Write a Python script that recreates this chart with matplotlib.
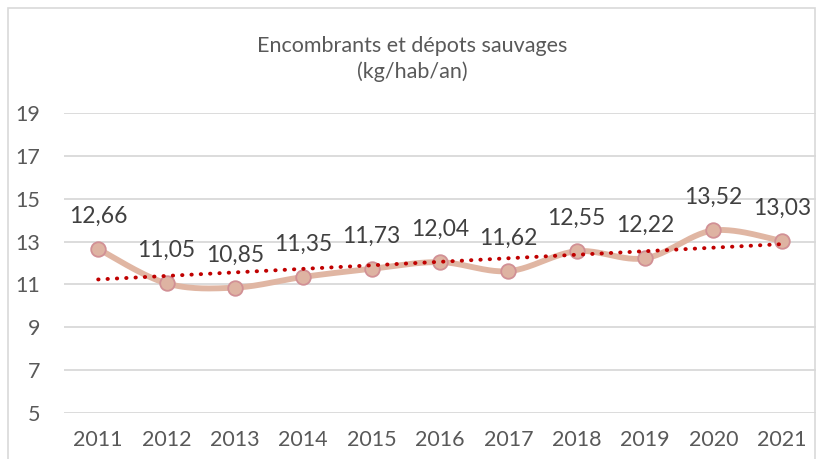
import matplotlib
matplotlib.use("Agg")
import matplotlib.pyplot as plt
from matplotlib.patches import Rectangle
import numpy as np

plt.rcParams['font.family'] = ['Lato', 'DejaVu Sans']

# data
years = ['2011', '2012', '2013', '2014', '2015', '2016', '2017', '2018', '2019', '2020', '2021']
values = [12.66, 11.05, 10.85, 11.35, 11.73, 12.04, 11.62, 12.55, 12.22, 13.52, 13.03]
y_ticks = [5, 7, 9, 11, 13, 15, 17, 19]
title = "Encombrants et dépots sauvages\n(kg/hab/an)"


# smooth curve through points like excel does (catmull-rom bezier)
def smooth_line(x, y, n=30):
    pts = np.column_stack([x, y])
    out = []
    for i in range(len(pts) - 1):
        p0 = pts[i - 1] if i > 0 else pts[i]
        p1 = pts[i]
        p2 = pts[i + 1]
        p3 = pts[i + 2] if i + 2 < len(pts) else pts[i + 1]
        c1 = p1 + (p2 - p0) / 6
        c2 = p2 - (p3 - p1) / 6
        t = np.linspace(0, 1, n)[:, None]
        seg = (1 - t) ** 3 * p1 + 3 * (1 - t) ** 2 * t * c1 + 3 * (1 - t) * t ** 2 * c2 + t ** 3 * p2
        out.append(seg)
    seg = np.vstack(out)
    return seg[:, 0], seg[:, 1]


W, H = 820, 459
fig = plt.figure(figsize=(W / 100, H / 100), dpi=100)

# chart border
fig.patches.append(Rectangle((8 / W, -0.05), 807 / W, (H - 8) / H + 0.05, transform=fig.transFigure,
                             fill=False, edgecolor='#d9d9d9', linewidth=1.2))

ax = fig.add_axes([64 / W, 1 - 413 / H, 752 / W, 300 / H])
x = np.arange(len(values))
vals = np.array(values)

ax.set_xlim(-0.5, len(values) - 0.5)
ax.set_ylim(5, 19)
ax.set_yticks(y_ticks)
ax.set_xticks(x)
ax.set_xticklabels(years)
ax.yaxis.grid(True, color='#d9d9d9', linewidth=1.3)
ax.set_axisbelow(True)
for s in ax.spines.values():
    s.set_visible(False)
ax.tick_params(length=0, labelsize=15.5, labelcolor='#595959')
ax.tick_params(axis='y', pad=17)
ax.tick_params(axis='x', pad=12)

sx, sy = smooth_line(x, vals)
ax.plot(sx, sy, color='#e0b6a3', linewidth=4.2, solid_capstyle='round', clip_on=False, zorder=3)
ax.plot(x, vals, linestyle='none', marker='o', markersize=10.5, markerfacecolor='#deb3a2',
        markeredgecolor='#d19095', markeredgewidth=1.3, clip_on=False, zorder=4)

# linear trend line
a, b = np.polyfit(x, vals, 1)
ax.plot(x, a * x + b, color='#c00000', linewidth=2.8, linestyle=(0, (0.1, 2.3)),
        dash_capstyle='round', zorder=5)

for xi, v in zip(x, values):
    ax.annotate(f"{v:.2f}".replace('.', ','), (xi, v), xytext=(0, 23.5), textcoords='offset points',
                ha='center', va='center', fontsize=16.5, color='#404040', zorder=6)

fig.text(412 / W, 1 - 59 / H, title, ha='center', va='center', fontsize=15.5, color='#595959',
         linespacing=1.3)

fig.savefig("out.png", dpi=100)
